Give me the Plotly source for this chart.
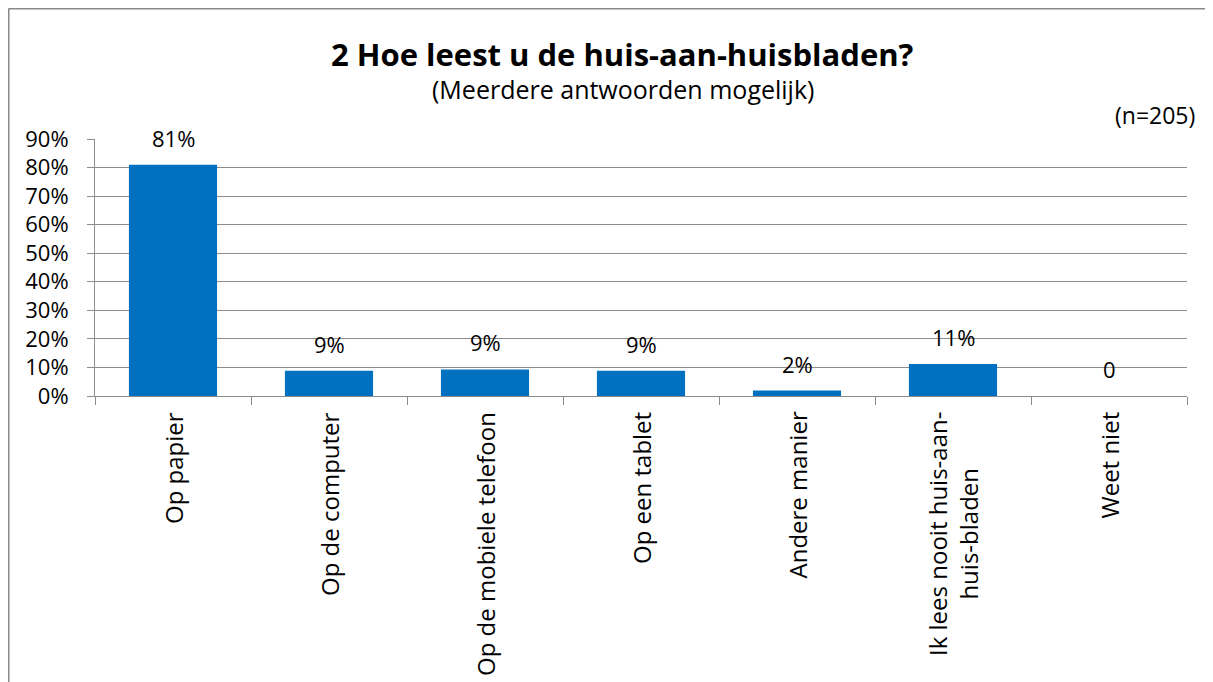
import plotly.graph_objects as go

categories = ["Op papier", "Op de computer", "Op de mobiele telefoon", "Op een tablet",
              "Andere manier", "Ik lees nooit huis-aan-<br>huis-bladen", "Weet niet"]
values = [0.810, 0.088, 0.093, 0.088, 0.019, 0.112, 0.0]
value_labels = ["81%", "9%", "9%", "9%", "2%", "11%", "0"]
y_ticks = [0, 0.1, 0.2, 0.3, 0.4, 0.5, 0.6, 0.7, 0.8, 0.9]
y_tick_labels = ["0%", "10%", "20%", "30%", "40%", "50%", "60%", "70%", "80%", "90%"]

FONT = "Open Sans"
GRID = "#8c8c8c"
FS = 22

fig = go.Figure()
fig.add_trace(go.Bar(x=categories, y=values, marker=dict(color="#0070C0", line=dict(width=0)),
                     hoverinfo="skip"))

# value labels above bars
for c, v, t in zip(categories, values, value_labels):
    fig.add_annotation(x=c, y=v, text=t, showarrow=False, yanchor="bottom", yshift=10,
                       font=dict(family=FONT, size=FS, color="black"))

# category labels (rotated, lines centred)
for c in categories:
    fig.add_annotation(x=c, y=0, yref="paper", text=c, showarrow=False, textangle=-90,
                       xanchor="center", yanchor="top", yshift=-14, align="center",
                       font=dict(family=FONT, size=24, color="black"))

# Titles
fig.add_annotation(xref="paper", yref="paper", x=0.4835, y=1.331,
                   text="<b>2 Hoe leest u de huis-aan-huisbladen?</b>",
                   showarrow=False, xanchor="center", yanchor="middle",
                   font=dict(family=FONT, size=31, color="black"))
fig.add_annotation(xref="paper", yref="paper", x=0.4835, y=1.195,
                   text="(Meerdere antwoorden mogelijk)",
                   showarrow=False, xanchor="center", yanchor="middle",
                   font=dict(family=FONT, size=25, color="black"))
fig.add_annotation(xref="paper", yref="paper", x=1.0092, y=1.093, text="(n=205)",
                   showarrow=False, xanchor="right", yanchor="middle",
                   font=dict(family=FONT, size=23, color="black"))

# chart border (left and top visible)
fig.add_shape(type="line", xref="paper", yref="paper", x0=-0.0792, x1=-0.0792, y0=1.5078, y1=-1.3,
              line=dict(color="#898989", width=2))
fig.add_shape(type="line", xref="paper", yref="paper", x0=-0.0792, x1=1.1, y0=1.5078, y1=1.5078,
              line=dict(color="#898989", width=2))

fig.update_layout(
    width=1213, height=682,
    margin=dict(l=87, r=34, t=131, b=294, autoexpand=False),
    plot_bgcolor="white", paper_bgcolor="white",
    bargap=0.435, showlegend=False,
    font=dict(family=FONT, size=FS, color="black"),
)
fig.update_yaxes(range=[0, 0.9], tickvals=y_ticks, ticktext=y_tick_labels,
                 showgrid=True, gridcolor=GRID, gridwidth=1,
                 showline=True, linecolor=GRID, linewidth=1,
                 ticks="outside", ticklen=7, tickcolor=GRID, ticklabelstandoff=14,
                 tickfont=dict(family=FONT, size=FS, color="black"), zeroline=False)
fig.update_xaxes(showline=True, linecolor=GRID, linewidth=1,
                 ticks="outside", ticklen=8, tickcolor=GRID, tickson="boundaries",
                 showticklabels=False, showgrid=False)

fig.write_html("out.html")
